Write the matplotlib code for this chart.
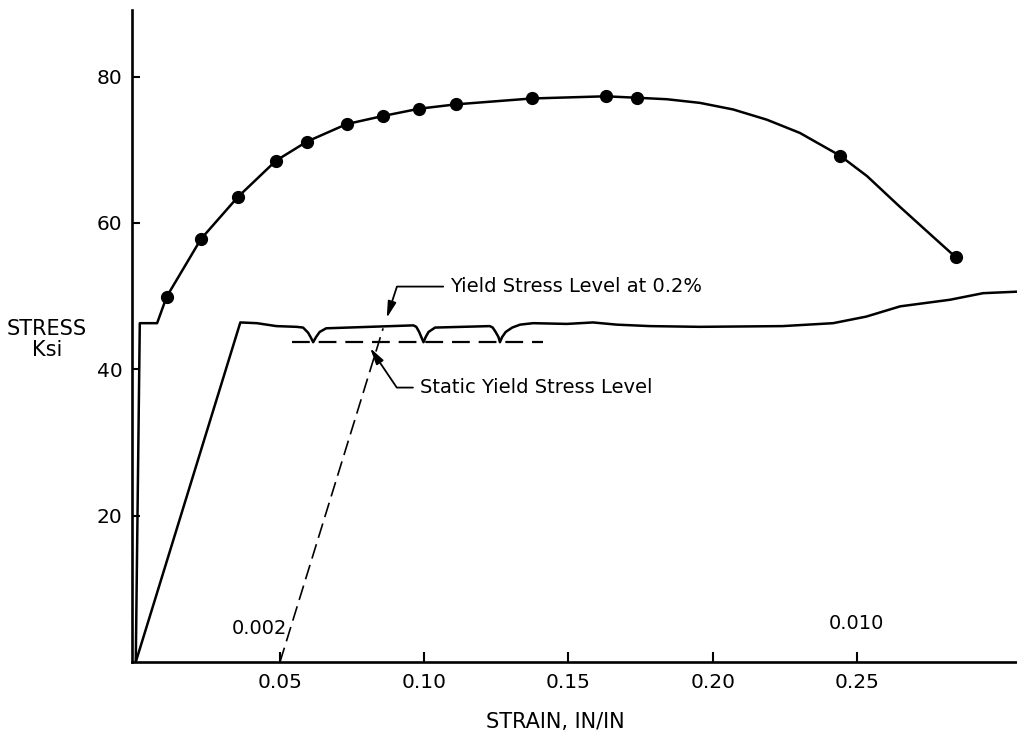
import matplotlib.pyplot as plt

# upper curve: full strain scale (in/in), stress in ksi
upper_strain = [0.0, 0.0014, 0.0074, 0.0107, 0.0226, 0.0353, 0.0486, 0.0593, 0.0731,
                0.0856, 0.0982, 0.111, 0.1372, 0.1629, 0.1738, 0.1841, 0.1956, 0.2071,
                0.2188, 0.2302, 0.2441, 0.2535, 0.2649, 0.2764, 0.2843]
upper_stress = [0.0, 46.3, 46.3, 49.9, 57.8, 63.5, 68.5, 71.1, 73.5,
                74.6, 75.6, 76.2, 77.0, 77.3, 77.1, 76.9, 76.4, 75.5,
                74.1, 72.3, 69.2, 66.4, 62.2, 58.1, 55.3]
dot_strain = [0.0107, 0.0226, 0.0353, 0.0486, 0.0593, 0.0731, 0.0856, 0.0982, 0.111,
              0.1372, 0.1629, 0.1738, 0.2441, 0.2843]
dot_stress = [49.9, 57.8, 63.5, 68.5, 71.1, 73.5, 74.6, 75.6, 76.2,
              77.0, 77.3, 77.1, 69.2, 55.3]

# lower curve: expanded strain scale (25x)
lower_strain = [0.0, 0.00145, 0.00168, 0.00195, 0.00223,
                0.00232, 0.00239, 0.00243, 0.00246, 0.0025, 0.00255, 0.00264,
                0.00385, 0.00389, 0.00393, 0.00396, 0.00399, 0.00402, 0.00406, 0.00415,
                0.00491, 0.00495, 0.00499, 0.00503, 0.00505, 0.00508, 0.00513, 0.00522,
                0.00533, 0.00551, 0.00598, 0.00634, 0.00667, 0.00713, 0.00782,
                0.00897, 0.00967, 0.01013, 0.0106, 0.01129, 0.01175, 0.01221]
lower_stress = [0.0, 46.4, 46.3, 45.9, 45.8,
                45.7, 45.0, 44.3, 43.7, 44.4, 45.1, 45.6,
                46.0, 45.8, 45.1, 44.4, 43.7, 44.4, 45.1, 45.7,
                45.9, 45.7, 45.1, 44.4, 43.7, 44.4, 45.1, 45.7,
                46.1, 46.3, 46.2, 46.4, 46.1, 45.9, 45.8,
                45.9, 46.3, 47.2, 48.6, 49.5, 50.4, 50.6]

offset_strain = [0.002, 0.00343]
offset_stress = [0.0, 45.6]
static_strain = [0.00217, 0.00565]
static_stress = [43.7, 43.7]

x_ticks = [0.05, 0.10, 0.15, 0.20, 0.25]
x_labels = ['0.05', '0.10', '0.15', '0.20', '0.25']
y_ticks = [20, 40, 60, 80]
scale = 25.0

fig = plt.figure(figsize=(10.17, 7.36), dpi=100)
ax = fig.add_axes([0.1298, 0.1005, 0.8702, 0.886])
xlim = (-0.0013, 0.3055)
ax.set_xlim(xlim)
ax.set_ylim(0, 89.1)

ax.plot(upper_strain, upper_stress, color='black', lw=1.8)
ax.plot(dot_strain, dot_stress, 'o', color='black', ms=8.5)

for s in ['top', 'right']:
    ax.spines[s].set_visible(False)
for s in ['left', 'bottom']:
    ax.spines[s].set_linewidth(1.9)

ax.set_xticks(x_ticks)
ax.set_xticklabels(x_labels)
ax.set_yticks(y_ticks)
ax.tick_params(axis='x', direction='in', length=7, width=1.5, pad=8, labelsize=14.5)
ax.tick_params(axis='y', direction='in', length=6, width=1.5, pad=7, labelsize=14.5)

ax.set_xlabel('STRAIN, IN/IN', fontsize=15)
ax.xaxis.set_label_coords(0.478, -0.077)
ax.set_ylabel('STRESS\nKsi', fontsize=15, rotation=0, va='center', ha='center',
              linespacing=1.05)
ax.yaxis.set_label_coords(-0.096, 0.495)

# expanded scale axis
ax2 = ax.twiny()
ax2.set_xlim(xlim[0] / scale, xlim[1] / scale)
ax2.axis('off')
ax2.plot(lower_strain, lower_stress, color='black', lw=1.8)
ax2.plot(offset_strain, offset_stress, color='black', lw=1.2, dashes=(9, 4))
ax2.plot(static_strain, static_stress, color='black', lw=1.6, dashes=(8, 4))

ax2.text(0.0021, 4.6, '0.002', fontsize=14, ha='right', va='center')
ax2.text(0.010, 5.3, '0.010', fontsize=14, ha='center', va='center')

arrow = dict(arrowstyle='-|>,head_length=0.7,head_width=0.18', color='black', lw=1.3,
             relpos=(0, 0.5), shrinkA=3, shrinkB=0)
ax2.annotate('Yield Stress Level at 0.2%', xy=(0.00348, 47.0), xytext=(0.00436, 51.3),
             fontsize=14, ha='left', va='center',
             arrowprops=dict(arrow, connectionstyle='angle,angleA=0,angleB=72,rad=0'))
ax2.annotate('Static Yield Stress Level', xy=(0.00325, 42.9), xytext=(0.00394, 37.5),
             fontsize=14, ha='left', va='center',
             arrowprops=dict(arrow, connectionstyle='angle,angleA=0,angleB=-56,rad=0'))

fig.savefig('out.png', dpi=100)
